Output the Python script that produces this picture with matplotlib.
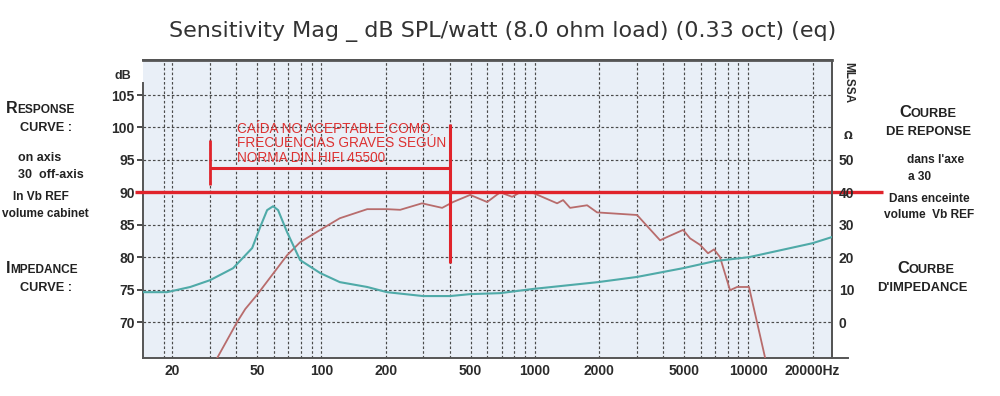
import numpy as np
import matplotlib
matplotlib.use("Agg")
import matplotlib.pyplot as plt

# ---------------- data ----------------
resp_freq = [32.5, 40.3, 44.0, 50.0, 58.0, 69.1, 79.5, 98.7, 122, 164, 203, 234, 296, 368, 414,
             498, 598, 688, 783, 853, 982, 1272, 1357, 1463, 1758, 1958, 3013, 3862,
             4164, 4950, 5337, 5944, 6478, 6913, 7375, 8216, 8862, 9352, 10080, 12000]
resp_db = [64.45, 70.0, 72.0, 74.2, 77.0, 80.3, 82.3, 84.2, 86.0, 87.4, 87.4, 87.3, 88.3, 87.6, 88.5,
           89.6, 88.5, 90.0, 89.3, 90.0, 89.9, 88.3, 88.8, 87.6, 88.0, 86.9, 86.5, 82.6,
           83.1, 84.2, 82.9, 81.9, 80.6, 81.2, 80.0, 74.9, 75.4, 75.4, 75.4, 64.45]

imp_freq = [14.6, 18.9, 24.3, 30.1, 38.6, 47.4, 51.7, 55.7, 59.4, 62.7, 69.1, 79.5,
            98.7, 122, 164, 203, 300, 401, 498, 688, 982, 1978, 3013, 4950, 6988,
            10080, 20000, 24680]
imp_ohm = [9.2, 9.2, 10.8, 12.9, 16.6, 22.8, 29.3, 34.5, 35.7, 34.5, 27.7, 19.1,
           15.1, 12.3, 10.8, 9.2, 8.0, 8.0, 8.6, 8.9, 10.2, 12.3, 13.9, 16.6, 18.8,
           20.0, 24.3, 26.2]

x_ticks = [20, 50, 100, 200, 500, 1000, 2000, 5000, 10000, 20000]
x_labels = ["20", "50", "100", "200", "500", "1000", "2000", "5000", "10000", "20000Hz"]
grid_freqs = [18.4, 20, 30, 40, 50, 60, 70, 80, 90, 100, 200, 300, 400, 500, 600, 700,
              800, 900, 1000, 2000, 3000, 4000, 5000, 6000, 7000, 8000, 9000, 10000, 20000]
db_ticks = [70, 75, 80, 85, 90, 95, 100, 105]
ohm_ticks = [0, 10, 20, 30, 40, 50]

# annotation (red) values
limit_db = 90.0
bracket_f = [30, 400]
bracket_db = 93.7
note_text = "CAÍDA NO ACEPTABLE COMO\nFRECUENCIAS GRAVES SEGÚN\nNORMA DIN HIFI 45500"

title = "Sensitivity Mag _ dB SPL/watt (8.0 ohm load) (0.33 oct) (eq)"

# ---------------- figure ----------------
W, H = 1000, 396
fig = plt.figure(figsize=(W / 100, H / 100), dpi=100)
fig.patch.set_facecolor("white")

def fx(px):
    return px / W

def fy(py):
    return 1 - py / H

ax = fig.add_axes([fx(143), fy(358), fx(832) - fx(143), fy(60) - fy(358)])
ax.set_facecolor("#e9eff7")
ax.set_xscale("log")
ax.set_xlim(14.6, 24680)
ylo, yhi = 64.45, 110.4
ax.set_ylim(ylo, yhi)

DARK = "#2b2b2b"
GRID = "#4a4a4a"
RED = "#e0232b"

# grid
for f in grid_freqs:
    ax.axvline(f, color=GRID, lw=0.85, ls=(0, (2.2, 1.8)), zorder=1)
for d in db_ticks:
    ax.axhline(d, color=GRID, lw=0.85, ls=(0, (2.2, 1.8)), zorder=1)

# curves
ax.plot(resp_freq, resp_db, color="#b86c6c", lw=1.3, zorder=3)

ax2 = ax.twinx()
ax2.set_ylim(2 * (ylo - 70), 2 * (yhi - 70))
ax2.plot(imp_freq, imp_ohm, color="#4faaa8", lw=1.5, zorder=3)

# axes styling
for a in (ax, ax2):
    for s in a.spines.values():
        s.set_color("#555555")
        s.set_linewidth(1.4)
ax.spines["top"].set_linewidth(2.0)
ax.spines["left"].set_bounds(ylo, 106.8)
ax2.spines["left"].set_visible(False)
ax.spines["bottom"].set_bounds(14.6, 29300)
ax2.spines["bottom"].set_visible(False)

ax.set_xticks(x_ticks)
ax.set_xticklabels(x_labels)
ax.xaxis.set_minor_locator(matplotlib.ticker.NullLocator())
ax.tick_params(axis="x", length=0, pad=4, labelsize=10, colors=DARK)
for t in ax.get_xticklabels():
    t.set_fontweight("bold")
    t.set_fontfamily("Liberation Sans")

ax.set_yticks(db_ticks)
ax.set_yticklabels([str(v) for v in db_ticks])
ax.tick_params(axis="y", length=4, width=1.2, pad=2, labelsize=10, colors=DARK)
for t in ax.get_yticklabels():
    t.set_fontweight("bold")
    t.set_fontfamily("Liberation Sans")

ax2.set_yticks(ohm_ticks)
ax2.set_yticklabels([str(v) for v in ohm_ticks])
ax2.tick_params(axis="y", length=0, pad=5, labelsize=10, colors=DARK)
for t in ax2.get_yticklabels():
    t.set_fontweight("bold")
    t.set_fontfamily("Liberation Sans")

# red annotations
ax.plot([13.4, 42770], [limit_db, limit_db], color=RED, lw=2.4, clip_on=False, zorder=5,
        solid_capstyle="butt")
ax.plot([bracket_f[1], bracket_f[1]], [79.1, 100.5], color=RED, lw=2.2, zorder=5,
        solid_capstyle="butt")
ax.plot([bracket_f[0], bracket_f[0]], [91.1, 98.0], color=RED, lw=2.0, zorder=5,
        solid_capstyle="butt")
ax.plot(bracket_f, [bracket_db, bracket_db], color=RED, lw=2.2, zorder=5,
        solid_capstyle="butt")
ax.text(40.3, 100.9, note_text, color="#dd3333", fontsize=9.8, family="Liberation Sans",
        va="top", ha="left", linespacing=1.08, zorder=6)

# title
fig.text(fx(503), fy(32), title, fontsize=16, color="#333333", family="DejaVu Sans",
         ha="center", va="center")

# axis unit labels
fig.text(fx(123), fy(76), "dB", fontsize=9, fontweight="bold", color=DARK,
         family="Liberation Sans", ha="center", va="center")
fig.text(fx(848), fy(136), "Ω", fontsize=7.5, fontweight="bold", color=DARK,
         family="DejaVu Sans", ha="center", va="center")
fig.text(fx(848), fy(83), "MLSSA", fontsize=8.5, fontweight="bold", color=DARK,
         family="Liberation Sans", ha="center", va="center", rotation=-90)

# side labels
SIDE = dict(fontweight="bold", color="#222222", family="Liberation Sans")

def smallcaps(px, baseline, first, rest, big=12, small=9):
    t1 = fig.text(fx(px), fy(baseline), first, fontsize=big, va="baseline", ha="left", **SIDE)
    fig.add_artist(matplotlib.text.Annotation(rest, xy=(1, 0), xycoords=t1, fontsize=small,
                                              va="bottom", ha="left", **SIDE))

def label(px, py, s, size=8.6, ha="center"):
    fig.text(fx(px), fy(py), s, fontsize=size, va="center", ha=ha, **SIDE)

smallcaps(6, 113, "R", "ESPONSE", big=11.5, small=8.6)
label(46, 128, "CURVE :", size=9.2)
label(40, 158, "on axis", size=9)
label(51, 175, "30  off-axis", size=9)
label(41, 197, "In Vb REF", size=8.6)
label(45, 214, "volume cabinet", size=8.6)
smallcaps(6, 273, "I", "MPEDANCE", big=11.5, small=8.6)
label(46, 288, "CURVE :", size=9.2)

smallcaps(899, 117, "C", "OURBE", big=12, small=9.2)
label(928, 132, "DE REPONSE", size=9.4)
label(936, 160, "dans l'axe", size=8.6)
label(908, 177, "a 30", size=8.6, ha="left")
label(929, 199, "Dans enceinte", size=8.6)
label(929, 215, "volume  Vb REF", size=8.6)
smallcaps(897, 273, "C", "OURBE", big=12, small=9.2)
label(922, 288, "D'IMPEDANCE", size=9.4)

fig.savefig("out.png", dpi=100, facecolor="white")
